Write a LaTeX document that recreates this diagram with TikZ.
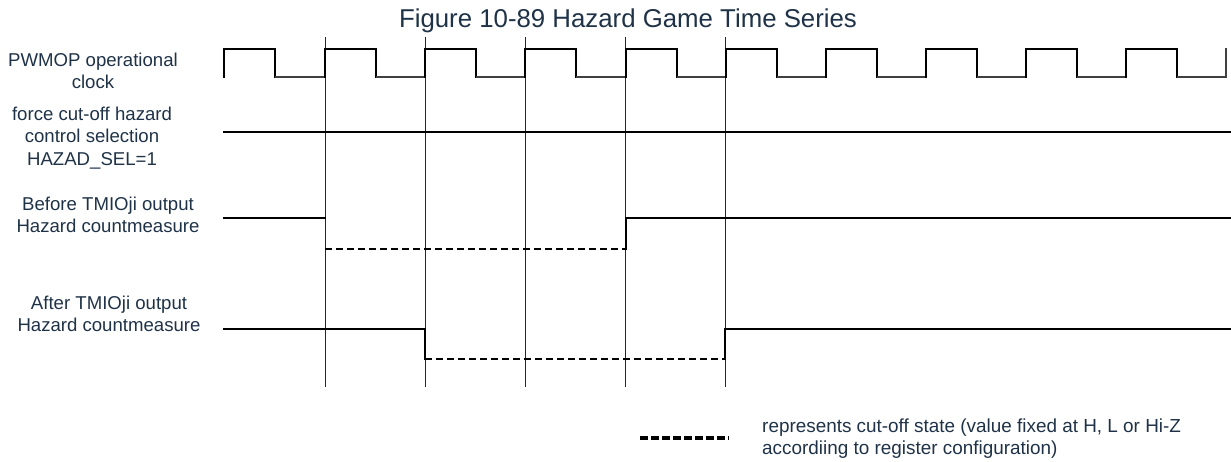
\documentclass[tikz,border=0pt]{standalone}
\usepackage{fontspec}
\setmainfont{Liberation Sans}
\definecolor{textc}{RGB}{31,50,71}
\begin{document}
\begin{tikzpicture}[x=1pt,y=-1pt,
  lbl/.style={align=center,font=\fontsize{18.6}{22.5}\selectfont,text=textc,inner sep=0pt},
  guide/.style={line width=1pt,draw=black!85},
  sig/.style={line width=2.2pt,line cap=rect},
  lowsig/.style={line width=1.3pt,draw=black!75},
  cut/.style={line width=2.4pt,dash pattern=on 7pt off 4pt}]
\useasboundingbox (0,0) rectangle (1231,462);
% title
\node[font=\fontsize{25.8}{30}\selectfont,text=textc,anchor=base,inner sep=0pt] (title) at (628,28) {Figure 10-89 Hazard Game Time Series};
% labels
\node[lbl] (lclk) at (93,71) {PWMOP operational\\clock};
\node[lbl] (lsel) at (92,138) {force cut-off hazard\\control selection\\HAZAD\_SEL=1};
\node[lbl] (lbef) at (108,215) {Before TMIOji output\\Hazard countmeasure};
\node[lbl] (laft) at (109,314) {After TMIOji output\\Hazard countmeasure};
% guide lines
\foreach \gx in {325,425,525,625,725}
  \draw[guide] (\gx,37) -- (\gx,387);
% clock
\foreach \r in {224,325,425,525,626,726,826,926,1026,1126}{
  \draw[sig,line cap=butt,line join=miter] (\r,78) -- (\r,49) -- (\r+51,49) -- (\r+51,78);
  \draw[lowsig] (\r+51,77) -- (\r+100,77);
}
\draw[lowsig] (1226,78) -- (1226,48);
% HAZAD_SEL
\draw[sig] (224,132) -- (1230,132);
% before
\draw[sig] (224,218) -- (325,218);
\draw[cut] (325,249) -- (626,249);
\draw[sig,line join=miter] (626,249) -- (626,218) -- (1230,218);
% after
\draw[sig,line join=miter] (224,329) -- (425,329) -- (425,359);
\draw[cut] (425,359) -- (725,359);
\draw[sig,line join=miter] (725,359) -- (725,329) -- (1230,329);
% legend
\draw[line width=3.2pt,dash pattern=on 8pt off 3pt] (640,438) -- (729,438);
\node[lbl,align=left,anchor=west,font=\fontsize{18.9}{22.5}\selectfont] (leg) at (762,438.5) {represents cut-off state (value fixed at H, L or Hi-Z\\accordiing to register configuration)};
\end{tikzpicture}
\end{document}
